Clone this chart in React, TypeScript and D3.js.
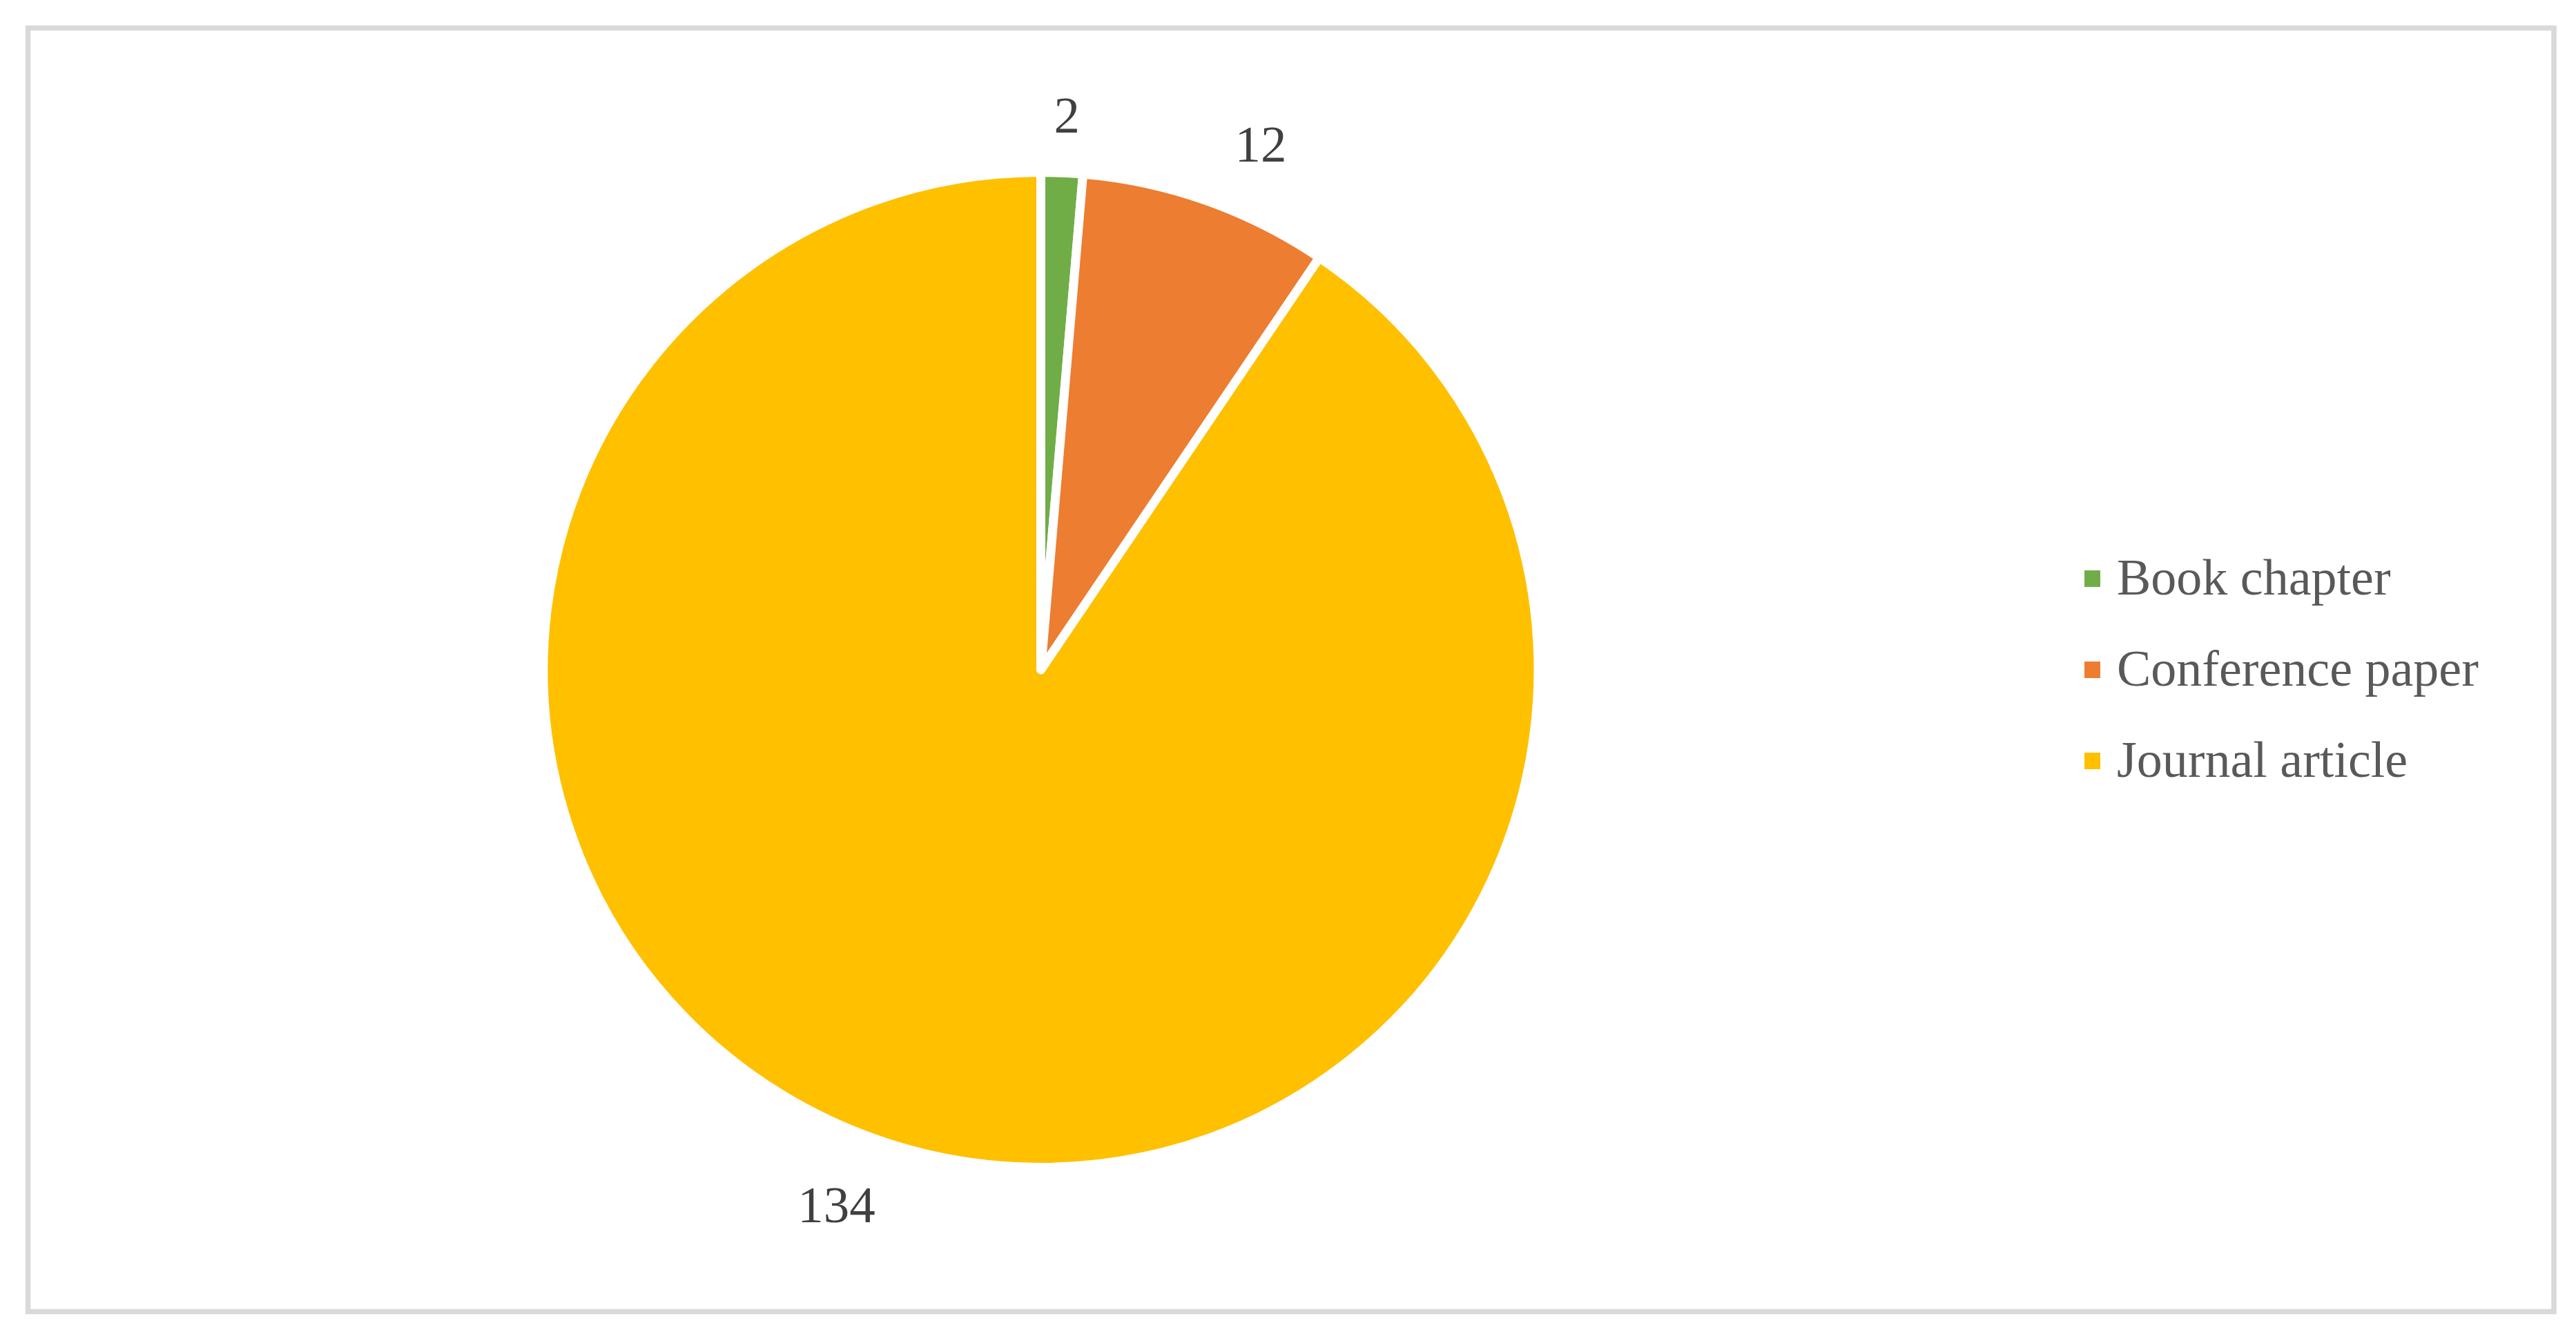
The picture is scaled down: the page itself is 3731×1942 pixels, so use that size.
import { useEffect, useRef } from "react";
import * as d3 from "d3";

const categories = ["Book chapter", "Conference paper", "Journal article"];
const counts = [2, 12, 134];
const colors = ["#70ad47", "#ed7d31", "#ffc000"];
// Excel's "best fit" label placement, as angle nudge (deg) and radius
const labelNudge = [
  { da: 0.25, r: 804 },
  { da: 3.25, r: 825 },
  { da: 3.9, r: 829 },
];

interface Slice {
  name: string;
  value: number;
  color: string;
}

const App: React.FC = () => {
  const svgRef = useRef<SVGSVGElement>(null);

  useEffect(() => {
    if (!svgRef.current) return;

    const width = 3731;
    const height = 1942;
    const cx = 1507.5;
    const cy = 970;
    const radius = 720.5; // white stroke eats ~6.5px of the rim

    const svg = d3
      .select(svgRef.current)
      .attr("width", width)
      .attr("height", height)
      .attr("viewBox", [0, 0, width, height]);

    svg.selectAll("*").remove();

    svg
      .append("rect")
      .attr("width", width)
      .attr("height", height)
      .attr("fill", "#fff");

    // chart area border
    svg
      .append("rect")
      .attr("x", 40.5)
      .attr("y", 40.5)
      .attr("width", 3658.5)
      .attr("height", 1859)
      .attr("fill", "#fff")
      .attr("stroke", "#d9d9d9")
      .attr("stroke-width", 7.5);

    const data: Slice[] = categories.map((name, i) => ({
      name,
      value: counts[i],
      color: colors[i],
    }));

    const pie = d3
      .pie<Slice>()
      .value((d) => d.value)
      .sort(null);

    const arcs = pie(data);

    const arc = d3
      .arc<d3.PieArcDatum<Slice>>()
      .innerRadius(0)
      .outerRadius(radius);

    const g = svg.append("g").attr("transform", `translate(${cx},${cy})`);

    g.selectAll("path")
      .data(arcs)
      .join("path")
      .attr("d", arc)
      .attr("fill", (d) => d.data.color)
      .attr("stroke", "#fff")
      .attr("stroke-width", 13)
      .attr("stroke-linejoin", "round");

    g.selectAll("text.label")
      .data(arcs)
      .join("text")
      .attr("class", "label")
      .attr("transform", (d, i) => {
        const mid = (d.startAngle + d.endAngle) / 2 + (labelNudge[i].da * Math.PI) / 180;
        const r = labelNudge[i].r;
        return `translate(${Math.sin(mid) * r},${-Math.cos(mid) * r})`;
      })
      .attr("text-anchor", "middle")
      .attr("dy", "0.34em")
      .style("font-family", "'Liberation Serif', 'Times New Roman', serif")
      .style("font-size", "75px")
      .attr("fill", "#404040")
      .text((d) => d.data.value);

    // legend
    const legend = svg
      .append("g")
      .selectAll("g")
      .data(data)
      .join("g")
      .attr("transform", (_d, i) => `translate(3019,${861 + i * 132})`);

    legend
      .append("rect")
      .attr("x", 0)
      .attr("y", -35)
      .attr("width", 23)
      .attr("height", 24)
      .attr("fill", (d) => d.color);

    legend
      .append("text")
      .attr("x", 47)
      .attr("y", 0)
      .style("font-family", "'Liberation Serif', 'Times New Roman', serif")
      .style("font-size", "74px")
      .attr("fill", "#595959")
      .text((d) => d.name);
  }, []);

  return (
    <svg
      ref={svgRef}
      style={{ position: "absolute", left: 0, top: 0, display: "block" }}
    />
  );
};

export default App;
